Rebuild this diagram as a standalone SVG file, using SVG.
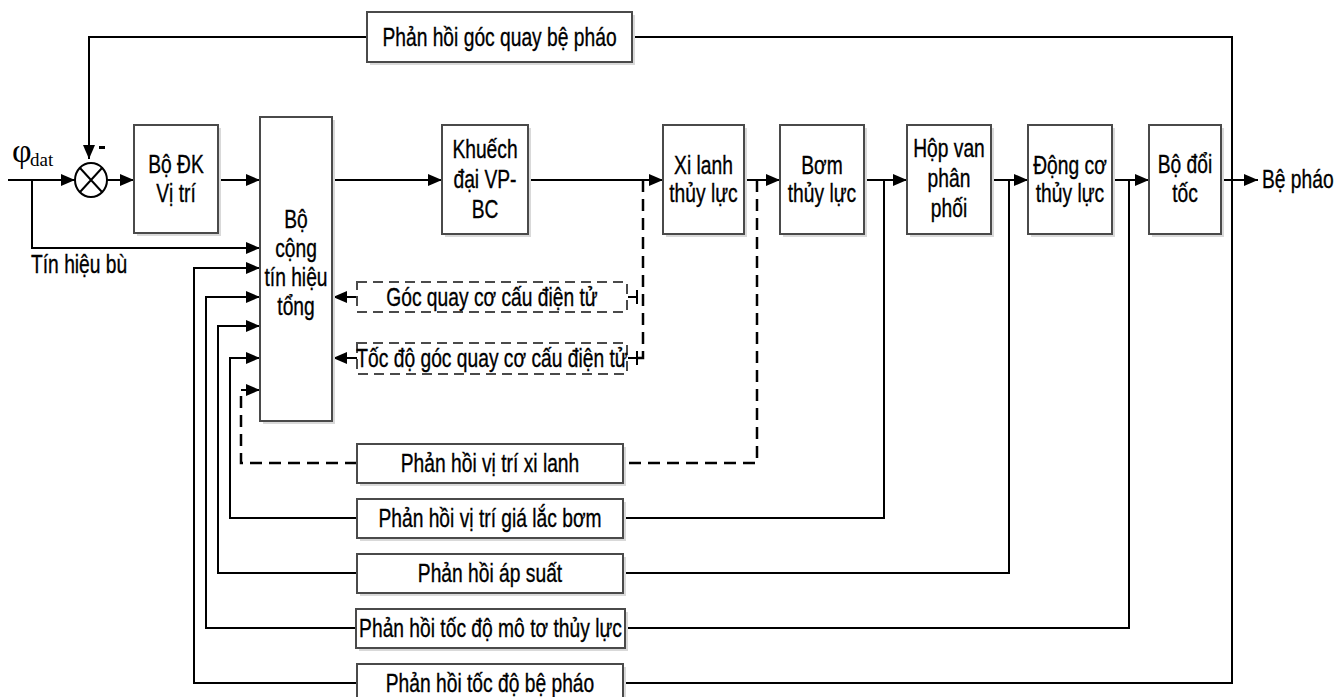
<svg xmlns="http://www.w3.org/2000/svg" width="1336" height="697" viewBox="0 0 1336 697">
<style>
.box{fill:#fff;stroke:#4a4a4a;stroke-width:2}
.sh{fill:#d9d9d9;stroke:none}
.dbox{fill:#fff;stroke:#4a4a4a;stroke-width:2;stroke-dasharray:10 6}
.t{font-family:'Liberation Sans',Arial,sans-serif;font-size:26px;fill:#000;stroke:#000;stroke-width:0.35;text-anchor:middle}
.tl{font-family:'Liberation Sans',Arial,sans-serif;font-size:26px;fill:#000;stroke:#000;stroke-width:0.35}
.ln{fill:none;stroke:#000;stroke-width:2}
.dl{fill:none;stroke:#000;stroke-width:2.5;stroke-dasharray:12 7}
</style>
<defs>
<marker id="ah" viewBox="0 0 14 12" refX="14" refY="6" markerWidth="14" markerHeight="12" markerUnits="userSpaceOnUse" orient="auto">
<path d="M0,0 L14,6 L0,12 Z" fill="#000"/>
</marker>
</defs>
<rect width="1336" height="697" fill="#fff"/>

<g id="connectors">
<path class="ln" d="M8,180 H75" marker-end="url(#ah)"/>
<path class="ln" d="M107,180 H134" marker-end="url(#ah)"/>
<path class="ln" d="M218,180 H260" marker-end="url(#ah)"/>
<path class="ln" d="M332,180 H442" marker-end="url(#ah)"/>
<path class="ln" d="M528,180 H663" marker-end="url(#ah)"/>
<path class="ln" d="M744,180 H780" marker-end="url(#ah)"/>
<path class="ln" d="M864,180 H907" marker-end="url(#ah)"/>
<path class="ln" d="M991,180 H1028" marker-end="url(#ah)"/>
<path class="ln" d="M1112,180 H1149" marker-end="url(#ah)"/>
<path class="ln" d="M1221,180 H1258" marker-end="url(#ah)"/>
<path class="ln" d="M1232,180 V37 H632"/>
<path class="ln" d="M367,37 H89 V159" marker-end="url(#ah)"/>
<path class="ln" d="M32,180 V248 H260" marker-end="url(#ah)"/>
<path class="ln" d="M884,180 V518 H623"/>
<path class="ln" d="M357,518 H230 V358 H260" marker-end="url(#ah)"/>
<path class="ln" d="M1009,180 V573 H623"/>
<path class="ln" d="M357,573 H218 V326 H260" marker-end="url(#ah)"/>
<path class="ln" d="M1129,180 V628 H625"/>
<path class="ln" d="M356,628 H206 V297 H260" marker-end="url(#ah)"/>
<path class="ln" d="M1232,180 V683 H623"/>
<path class="ln" d="M357,683 H194 V268 H260" marker-end="url(#ah)"/>
<path class="dl" d="M757,180 V463 H623"/>
<path class="dl" d="M357,463 H241 V390"/>
<path class="ln" d="M241,390 H260" marker-end="url(#ah)"/>
<path class="dl" d="M643,180 V358 H635"/>
<path class="ln" d="M637,358 H628 M637,351 V365"/>
<path class="ln" d="M637,297 H628 M637,290 V304"/>
<path class="ln" d="M357,297 H333" marker-end="url(#ah)"/>
<path class="ln" d="M357,358 H333" marker-end="url(#ah)"/>
</g>

<g id="sum">
<ellipse cx="91" cy="180" rx="16" ry="17" fill="#fff" stroke="#000" stroke-width="2"/>
<path class="ln" d="M80,168 L102,192 M102,168 L80,192"/>
<rect x="99" y="146" width="6" height="3" fill="#000"/>
</g>

<g id="input">
<text x="12" y="162" font-family="'Liberation Serif',serif" font-size="34">φ</text>
<text x="30" y="166" font-family="'Liberation Serif',serif" font-size="19">dat</text>
<text class="tl" transform="translate(31,273) scale(.74,1)">Tín hiệu bù</text>
</g>

<g id="bo-dk">
<rect class="sh" x="137" y="128" width="84" height="108"/>
<rect class="box" x="134" y="125" width="84" height="108"/>
<text class="t" transform="translate(176,173) scale(.74,1)">Bộ ĐK</text>
<text class="t" transform="translate(176,202) scale(.74,1)">Vị trí</text>
</g>

<g id="bo-cong">
<rect class="sh" x="263" y="120" width="72" height="304"/>
<rect class="box" x="260" y="117" width="72" height="304"/>
<text class="t" transform="translate(296,228) scale(.74,1)">Bộ</text>
<text class="t" transform="translate(296,257) scale(.74,1)">cộng</text>
<text class="t" transform="translate(296,286) scale(.74,1)">tín hiệu</text>
<text class="t" transform="translate(296,315) scale(.74,1)">tổng</text>
</g>

<g id="khuech-dai">
<rect class="sh" x="445" y="128" width="86" height="109"/>
<rect class="box" x="442" y="125" width="86" height="109"/>
<text class="t" transform="translate(485,158) scale(.74,1)">Khuếch</text>
<text class="t" transform="translate(485,188) scale(.74,1)">đại VP-</text>
<text class="t" transform="translate(485,218) scale(.74,1)">BC</text>
</g>

<g id="xi-lanh">
<rect class="sh" x="666" y="128" width="81" height="109"/>
<rect class="box" x="663" y="125" width="81" height="109"/>
<text class="t" transform="translate(703.5,174) scale(.74,1)">Xi lanh</text>
<text class="t" transform="translate(703.5,202) scale(.74,1)">thủy lực</text>
</g>

<g id="bom">
<rect class="sh" x="783" y="128" width="84" height="109"/>
<rect class="box" x="780" y="125" width="84" height="109"/>
<text class="t" transform="translate(822,174) scale(.74,1)">Bơm</text>
<text class="t" transform="translate(822,202) scale(.74,1)">thủy lực</text>
</g>

<g id="hop-van">
<rect class="sh" x="910" y="128" width="84" height="109"/>
<rect class="box" x="907" y="125" width="84" height="109"/>
<text class="t" transform="translate(949,157) scale(.74,1)">Hộp van</text>
<text class="t" transform="translate(949,187) scale(.74,1)">phân</text>
<text class="t" transform="translate(949,217) scale(.74,1)">phối</text>
</g>

<g id="dong-co">
<rect class="sh" x="1031" y="128" width="84" height="109"/>
<rect class="box" x="1028" y="125" width="84" height="109"/>
<text class="t" transform="translate(1070,174) scale(.74,1)">Động cơ</text>
<text class="t" transform="translate(1070,202) scale(.74,1)">thủy lực</text>
</g>

<g id="bo-doi-toc">
<rect class="sh" x="1152" y="128" width="72" height="109"/>
<rect class="box" x="1149" y="125" width="72" height="109"/>
<text class="t" transform="translate(1185,173) scale(.74,1)">Bộ đổi</text>
<text class="t" transform="translate(1185,202) scale(.74,1)">tốc</text>
</g>

<g id="output">
<text class="tl" transform="translate(1262,188) scale(.74,1)">Bệ pháo</text>
</g>

<g id="fb-goc-quay-be-phao">
<rect class="sh" x="370" y="15" width="265" height="50"/>
<rect class="box" x="367" y="12" width="265" height="50"/>
<text class="t" transform="translate(499.5,46) scale(.74,1)">Phản hồi góc quay bệ pháo</text>
</g>

<g id="goc-quay-cctd">
<rect class="dbox" x="357" y="282" width="270" height="30"/>
<text class="t" transform="translate(492,306) scale(.74,1)">Góc quay cơ cấu điện tử</text>
</g>

<g id="toc-do-goc-quay-cctd">
<rect class="dbox" x="357" y="343" width="270" height="31"/>
<text class="t" transform="translate(492,367) scale(.74,1)">Tốc độ góc quay cơ cấu điện tử</text>
</g>

<g id="fb-vi-tri-xi-lanh">
<rect class="sh" x="360" y="447" width="266" height="39"/>
<rect class="box" x="357" y="444" width="266" height="39"/>
<text class="t" transform="translate(490,472) scale(.74,1)">Phản hồi vị trí xi lanh</text>
</g>

<g id="fb-vi-tri-gia-lac-bom">
<rect class="sh" x="360" y="502" width="266" height="39"/>
<rect class="box" x="357" y="499" width="266" height="39"/>
<text class="t" transform="translate(490,527) scale(.74,1)">Phản hồi vị trí giá lắc bơm</text>
</g>

<g id="fb-ap-suat">
<rect class="sh" x="360" y="557" width="266" height="39"/>
<rect class="box" x="357" y="554" width="266" height="39"/>
<text class="t" transform="translate(490,582) scale(.74,1)">Phản hồi áp suất</text>
</g>

<g id="fb-toc-do-mo-to">
<rect class="sh" x="359" y="612" width="269" height="39"/>
<rect class="box" x="356" y="609" width="269" height="39"/>
<text class="t" transform="translate(490.5,637) scale(.74,1)">Phản hồi tốc độ mô tơ thủy lực</text>
</g>

<g id="fb-toc-do-be-phao">
<rect class="sh" x="360" y="667" width="266" height="39"/>
<rect class="box" x="357" y="664" width="266" height="39"/>
<text class="t" transform="translate(490,692) scale(.74,1)">Phản hồi tốc độ bệ pháo</text>
</g>
</svg>
